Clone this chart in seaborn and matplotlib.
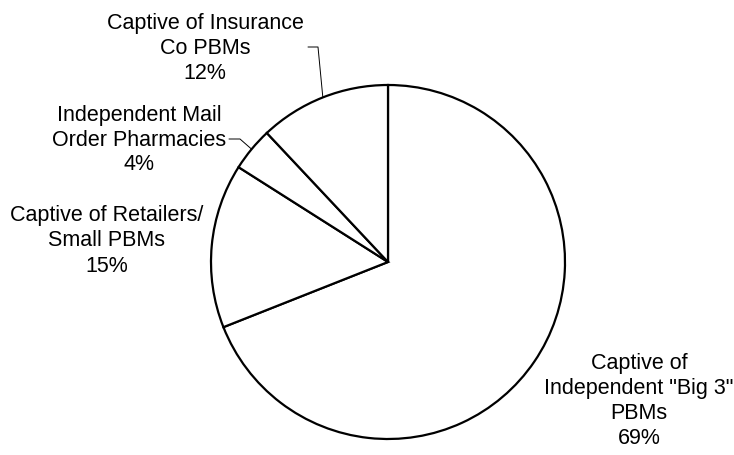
import numpy as np
import matplotlib
matplotlib.use("Agg")
import matplotlib.pyplot as plt
import seaborn as sns

categories = ['Captive of\nIndependent "Big 3"\nPBMs', 'Captive of Retailers/\nSmall PBMs',
              'Independent Mail\nOrder Pharmacies', 'Captive of Insurance\nCo PBMs']
values = [69, 15, 4, 12]
pct_labels = ['69%', '15%', '4%', '12%']

sns.set_theme(style="white")
plt.rcParams['font.family'] = ['Liberation Sans', 'DejaVu Sans']

W, H = 734, 456
fig = plt.figure(figsize=(W / 100, H / 100), dpi=100)
ax = fig.add_axes([0, 0, 1, 1])
ax.set_xlim(0, W)
ax.set_ylim(0, H)
ax.set_aspect('equal')
ax.axis('off')

cx, cy, r = 388, H - 263, 177
wedges, _ = ax.pie(values, startangle=90, counterclock=False, center=(cx, cy), radius=r,
                   colors=['white'] * len(values),
                   wedgeprops=dict(edgecolor='black', linewidth=1.6))
ax.set_xlim(0, W)
ax.set_ylim(0, H)

# label blocks: (center x, center y of block) in pixel coords from top
label_pos = [(639, 401), (107, 241), (139, 140), (205, 48)]
fs = 15.5
for i, (lab, pct) in enumerate(zip(categories, pct_labels)):
    x, yc = label_pos[i]
    ax.text(x, H - yc, lab + "\n" + pct, ha='center', va='center', fontsize=fs,
            linespacing=1.25, color='black')

# leader lines for small slices
def edge_point(idx):
    w = wedges[idx]
    ang = np.deg2rad((w.theta1 + w.theta2) / 2)
    return cx + r * np.cos(ang), cy + r * np.sin(ang)

ex, ey = edge_point(3)
ax.plot([308, 318, ex], [H - 48, H - 48, ey], color='black', lw=0.7)
ex, ey = edge_point(2)
ax.plot([229, 240, ex], [H - 140, H - 140, ey], color='black', lw=0.7)

fig.savefig("out.png", dpi=100)
